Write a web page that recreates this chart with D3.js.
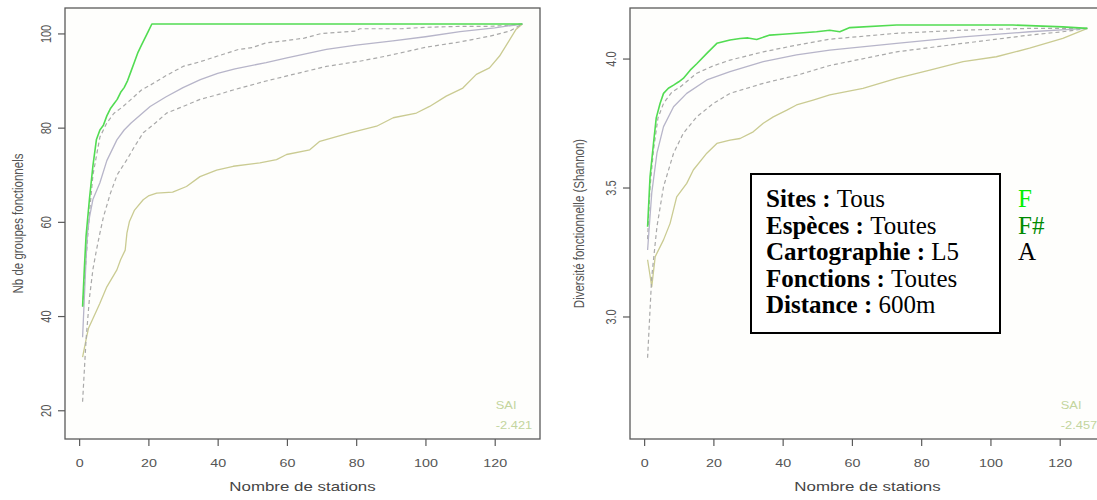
<!DOCTYPE html>
<html>
<head>
<meta charset="utf-8">
<script src="https://cdn.jsdelivr.net/npm/d3@7"></script>
<style>
  body { margin: 0; background: #fff; }
  svg { display: block; }
</style>
</head>
<body>
<svg id="chart"></svg>
<script>
// Left panel: number of functional groups vs number of stations.
const leftMax = [[1,42],[1.5,50],[2,57],[3,65],[4,72],[5,77.5],[6,79.5],[7,80.5],[8,82.5],[9,84],[10,85],[11,86],[12,87.5],[13,88.5],[14,90],[15,92],[16,94],[17,96],[18,97.5],[19,99],[20,100.5],[21,102],[128,102]];
const leftUpper = [[1,42],[2,52],[3,62],[4,70],[5,74],[6,78],[8,81],[10,83],[12.7,84.5],[15,86],[18,88],[20.5,89],[25,91],[30,93],[35,94],[40,95.2],[46,96.6],[50,97],[54,98],[60,98.5],[65,99],[70,100],[80,100.5],[81,101],[93,101],[100,101.3],[110,101.5],[118,101.5],[124,101.7],[128,102]];
const leftMean = [[1,35.5],[2,52],[2.4,57.6],[3,61],[4,64.8],[6,68.3],[8,73],[10.9,77.4],[13,79.5],[15,81],[20.5,84.5],[25,86.5],[30,88.5],[35,90.2],[40,91.5],[45,92.5],[54,93.8],[60,94.8],[71.4,96.6],[80,97.5],[90.6,98.4],[100,99.3],[110,100.4],[120,101.2],[128,102]];
const leftLower = [[1,21.8],[2,35],[3,44],[4,50],[5,54],[6,57.6],[7,61],[9,66],[11,70],[13.8,73.2],[16,76],[18.5,78.9],[22,81],[25.3,83.1],[30,84.5],[34.9,86],[40,87],[44.5,88],[54,89.9],[61.8,91.3],[71.4,93],[81,94.1],[88.7,95.2],[100.3,97.1],[110,98.2],[118.5,99.4],[124.3,100.5],[128,102]];
const leftSai = [[1,31.3],[2,35],[2.7,37.4],[4,39.5],[6,42.7],[8,46.2],[10.9,49.8],[12,52],[13.3,54],[13.8,57.6],[14.5,60],[16,62.5],[18.5,64.7],[20,65.5],[22.4,66.1],[27,66.3],[31,67.5],[34.9,69.6],[39.7,71],[44.5,71.8],[52.2,72.5],[57,73.2],[59.9,74.3],[66.6,75.3],[69.5,77.1],[78.2,78.9],[85.9,80.3],[90.7,82.1],[97.4,83.1],[101.2,84.5],[106,86.7],[110.8,88.4],[114.7,91.3],[118.5,92.7],[121.4,95.2],[126.2,100.9],[128,102]];
const leftTicks = [20, 40, 60, 80, 100];

// Right panel: functional diversity (Shannon) vs number of stations.
const rightMax = [[1,3.348],[1.7,3.54],[2.7,3.67],[3.5,3.77],[4.6,3.826],[5.6,3.865],[7,3.885],[8.5,3.897],[10,3.91],[11.3,3.923],[13.3,3.955],[15.2,3.98],[18.1,4.02],[21,4.059],[24.8,4.072],[27.7,4.078],[30,4.08],[32.5,4.074],[36.3,4.091],[40,4.094],[44,4.098],[49.8,4.104],[53.6,4.11],[56.5,4.104],[59.4,4.12],[72.9,4.13],[92.1,4.13],[106.5,4.13],[120.9,4.123],[128,4.117]];
const rightUpper = [[1,3.3],[1.7,3.5],[2.7,3.645],[4,3.77],[5.6,3.826],[8,3.87],[10.4,3.89],[15.2,3.943],[20,3.972],[24.8,3.994],[34.4,4.026],[44,4.052],[53.6,4.075],[72.9,4.098],[92.1,4.11],[111.3,4.117],[128,4.117]];
const rightMean = [[1,3.258],[2.2,3.479],[3.7,3.633],[5.6,3.736],[8.5,3.813],[12.3,3.865],[18.1,3.917],[24.8,3.949],[34.4,3.988],[44,4.014],[53.6,4.033],[72.9,4.059],[92.1,4.084],[111.3,4.104],[128,4.117]];
const rightLower = [[1,2.84],[1.7,3.025],[2.2,3.154],[3.7,3.348],[5.6,3.503],[8.5,3.633],[11.3,3.71],[15.2,3.774],[20,3.826],[24.8,3.865],[34.4,3.904],[44,3.935],[53.6,3.973],[72.9,4.026],[92.1,4.059],[111.3,4.091],[120.9,4.104],[128,4.117]];
const rightSai = [[1,3.22],[2.2,3.116],[3.2,3.232],[5.6,3.297],[7.5,3.361],[9.4,3.464],[12.3,3.516],[14.2,3.568],[18.1,3.633],[21,3.671],[24.8,3.684],[27.7,3.69],[31.5,3.716],[34.4,3.749],[37.3,3.774],[41.2,3.8],[44,3.82],[48.8,3.839],[53.6,3.859],[63.2,3.884],[72.9,3.923],[82.5,3.955],[92.1,3.988],[101.7,4.007],[111.3,4.04],[120.9,4.078],[128,4.117]];
const rightTicks = [3.0, 3.5, 4.0];

const xTicks = [0, 20, 40, 60, 80, 100, 120];

// Text box and labels.
const boxKeys = ["Sites :", "Espèces :", "Cartographie :", "Fonctions :", "Distance :"];
const boxValues = ["Tous", "Toutes", "L5", "Toutes", "600m"];
const sideLabels = ["F", "F#", "A"];
const sideColors = ["#00ee00", "#008a00", "#000"];

// Rendering variables.
const W = 1097, H = 500;
const plotTop = 8, plotBottom = 439, plotW = 475;
const stretch = 1.3;
const sans = "'Liberation Sans', Arial, sans-serif";
const serif = "'Liberation Serif', 'Times New Roman', serif";
const colors = { max: "#52dc52", mean: "#b7b5c9", band: "#a9a9a9", sai: "#cacb92", saiText: "#c3d59e", axis: "#5a5a5a", label: "#555" };

const svg = d3.select("#chart").attr("width", W).attr("height", H);

// Draws one R-style panel.
function panel(p) {
  const x = d3.scaleLinear().domain([-4.08, 133.08]).range([p.left, p.left + plotW]);
  const y = d3.scaleLinear().domain(p.yDomain).range([plotBottom, plotTop]);
  const g = svg.append("g");

  g.append("rect")
    .attr("x", p.left).attr("y", plotTop)
    .attr("width", plotW).attr("height", plotBottom - plotTop)
    .attr("fill", "#fefefc");

  const line = d3.line().x((d) => x(d[0])).y((d) => y(d[1]));
  const series = [
    { data: p.sai, color: colors.sai, dash: null, width: 1.3 },
    { data: p.lower, color: colors.band, dash: "4,3", width: 1.2 },
    { data: p.upper, color: colors.band, dash: "4,3", width: 1.2 },
    { data: p.mean, color: colors.mean, dash: null, width: 1.3 },
    { data: p.max, color: colors.max, dash: null, width: 1.6 },
  ];
  g.selectAll("path.curve")
    .data(series)
    .join("path")
    .attr("class", "curve")
    .attr("fill", "none")
    .attr("stroke", (s) => s.color)
    .attr("stroke-width", (s) => s.width)
    .attr("stroke-dasharray", (s) => s.dash)
    .attr("stroke-linejoin", "round")
    .attr("d", (s) => line(s.data));

  // Box.
  g.append("rect")
    .attr("x", p.left).attr("y", plotTop)
    .attr("width", plotW).attr("height", plotBottom - plotTop)
    .attr("fill", "none").attr("stroke", colors.axis).attr("stroke-width", 1.3);

  // X axis.
  const xa = g.append("g")
    .attr("transform", `translate(0,${plotBottom})`)
    .call(d3.axisBottom(x).tickValues(xTicks).tickSize(7).tickFormat(d3.format("d")));
  xa.select(".domain").remove();
  xa.selectAll("line").attr("stroke", colors.axis).attr("stroke-width", 1.2);
  xa.selectAll("text")
    .attr("y", 0).attr("dy", null)
    .attr("dominant-baseline", "central")
    .attr("transform", `translate(0,24) scale(${stretch},1)`)
    .attr("fill", colors.label)
    .style("font", `11px ${sans}`);

  // Y axis.
  const ya = g.append("g")
    .attr("transform", `translate(${p.left},0)`)
    .call(d3.axisLeft(y).tickValues(p.ticks).tickSize(7).tickFormat(p.format));
  ya.select(".domain").remove();
  ya.selectAll("line").attr("stroke", colors.axis).attr("stroke-width", 1.2);
  ya.selectAll("text")
    .attr("x", 0).attr("dy", null)
    .attr("text-anchor", "middle")
    .attr("dominant-baseline", "central")
    .attr("transform", `translate(-19.5,0) scale(${stretch},1) rotate(-90)`)
    .attr("fill", colors.label)
    .style("font", `11px ${sans}`);

  // Axis titles.
  g.append("text")
    .attr("transform", `translate(${p.left + plotW / 2},491) scale(${stretch},1)`)
    .attr("text-anchor", "middle")
    .attr("fill", "#444")
    .style("font", `13px ${sans}`)
    .text("Nombre de stations");
  g.append("text")
    .attr("transform", `translate(${p.left - p.titleOffset},${(plotTop + plotBottom) / 2}) scale(${stretch},1) rotate(-90)`)
    .attr("text-anchor", "middle")
    .attr("dominant-baseline", "central")
    .attr("fill", "#555")
    .style("font", `11.5px ${sans}`)
    .text(p.yTitle);

  // SAI note.
  g.selectAll("text.sai")
    .data(["SAI", p.saiValue])
    .join("text")
    .attr("class", "sai")
    .attr("transform", (d, i) => `translate(${x(120.3)},${plotBottom - 30 + i * 20}) scale(1.17,1)`)
    .attr("fill", colors.saiText)
    .style("font", `11px ${sans}`)
    .text((d) => d);
}

panel({
  left: 65, yDomain: [13.9, 105.4], ticks: leftTicks, format: d3.format("d"),
  max: leftMax, upper: leftUpper, mean: leftMean, lower: leftLower, sai: leftSai,
  yTitle: "Nb de groupes fonctionnels", saiValue: "-2.421", titleOffset: 47,
});

panel({
  left: 630, yDomain: [2.525, 4.196], ticks: rightTicks, format: d3.format(".1f"),
  max: rightMax, upper: rightUpper, mean: rightMean, lower: rightLower, sai: rightSai,
  yTitle: "Diversité fonctionnelle (Shannon)", saiValue: "-2.457", titleOffset: 51,
});

// Text box over the right panel.
const box = svg.append("g");
box.append("rect")
  .attr("x", 751).attr("y", 174).attr("width", 249).attr("height", 159)
  .attr("fill", "#fff").attr("stroke", "#000").attr("stroke-width", 2);
const rows = box.selectAll("text.row")
  .data(boxKeys)
  .join("text")
  .attr("class", "row")
  .attr("x", 766)
  .attr("y", (d, i) => 207 + i * 26.5)
  .style("font", `25px ${serif}`)
  .attr("fill", "#000");
rows.append("tspan").attr("font-weight", "bold").text((d) => d + " ");
rows.append("tspan").text((d, i) => boxValues[i]);

box.selectAll("text.side")
  .data(sideLabels)
  .join("text")
  .attr("class", "side")
  .attr("x", 1018)
  .attr("y", (d, i) => 207 + i * 26.5)
  .attr("fill", (d, i) => sideColors[i])
  .style("font", `25px ${serif}`)
  .text((d) => d);
</script>
</body>
</html>
